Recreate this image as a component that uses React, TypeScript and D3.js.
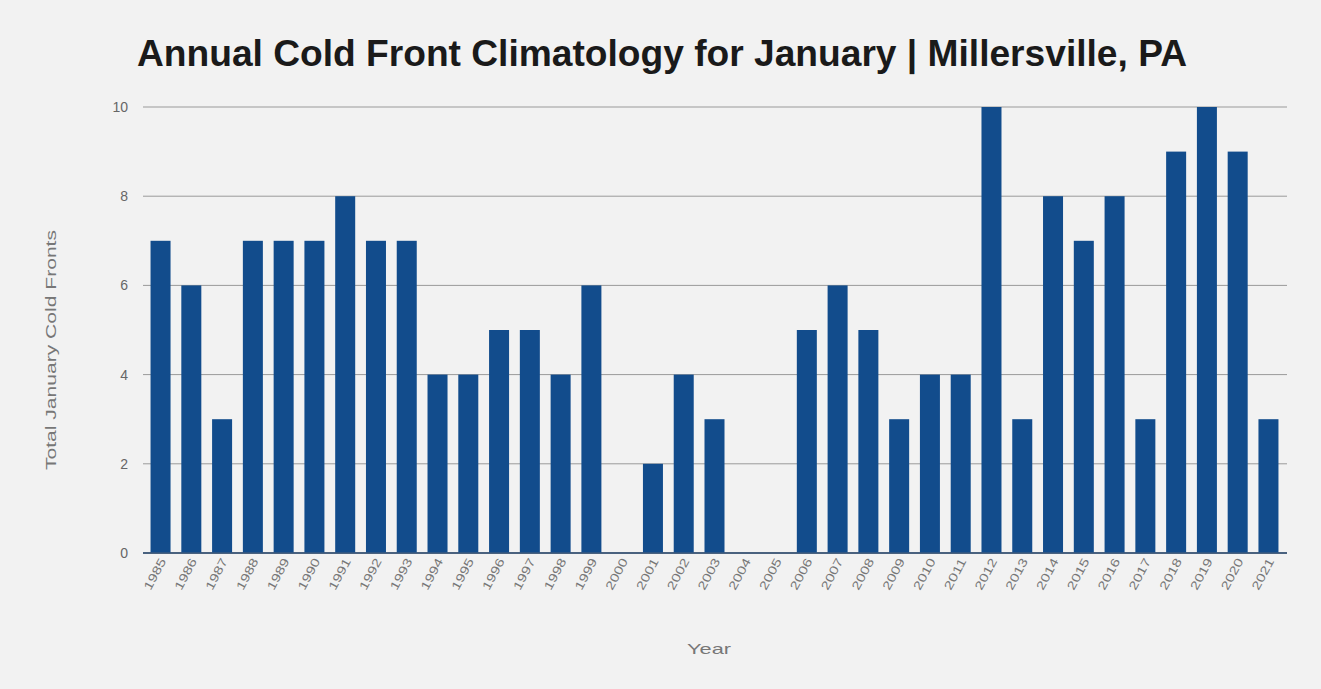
import React from "react";
import * as d3 from "d3";

const years: string[] = [
  "1985", "1986", "1987", "1988", "1989", "1990", "1991", "1992", "1993", "1994",
  "1995", "1996", "1997", "1998", "1999", "2000", "2001", "2002", "2003", "2004",
  "2005", "2006", "2007", "2008", "2009", "2010", "2011", "2012", "2013", "2014",
  "2015", "2016", "2017", "2018", "2019", "2020", "2021",
];
const coldFronts: number[] = [
  7, 6, 3, 7, 7, 7, 8, 7, 7, 4,
  4, 5, 5, 4, 6, 0, 2, 4, 3, 0,
  0, 5, 6, 5, 3, 4, 4, 10, 3, 8,
  7, 8, 3, 9, 10, 9, 3,
];
const yTicks: number[] = [0, 2, 4, 6, 8, 10];

const W = 1321;
const H = 689;
const left = 143;
const right = 1287;
const top = 107;
const bottom = 553;

export default function App() {
  const x = d3.scaleBand<string>().domain(years).range([left + 2, right - 3]).paddingInner(0.35).paddingOuter(0.18);
  const y = d3.scaleLinear().domain([0, 10]).range([bottom, top]);
  const font = "Arial, 'Liberation Sans', sans-serif";

  return (
    <svg width={W} height={H} style={{ position: "absolute", left: 0, top: 0, background: "#f2f2f2" }}>
      <rect x={0} y={0} width={W} height={H} fill="#f2f2f2" />
      <text x={137} y={66} fontFamily={font} fontWeight="bold" fontSize={36} fill="#1a1a1a"
        textLength={1050} lengthAdjust="spacingAndGlyphs">
        Annual Cold Front Climatology for January | Millersville, PA
      </text>
      {yTicks.map((t) => (
        <g key={t}>
          <line x1={left} x2={right} y1={y(t)} y2={y(t)} stroke={t === 0 ? "#555" : "#9a9a9a"} strokeWidth={t === 0 ? 1.5 : 1} />
          <text x={128} y={y(t) + 5} textAnchor="end" fontFamily={font} fontSize={14} fill="#666">{t}</text>
        </g>
      ))}
      {years.map((yr, i) => (
        <rect key={yr} x={x(yr)} y={y(coldFronts[i])} width={x.bandwidth()} height={bottom - y(coldFronts[i])} fill="#124c8c" />
      ))}
      <line x1={left} x2={right} y1={bottom} y2={bottom} stroke="#3a5a80" strokeWidth={1.5} />
      {years.map((yr) => {
        const cx = (x(yr) as number) + x.bandwidth() / 2;
        return (
          <text key={yr} transform={`translate(${cx + 6},${bottom + 8}) rotate(-62)`} textAnchor="end"
            fontFamily={font} fontSize={12} fill="#777" textLength={34} lengthAdjust="spacingAndGlyphs">
            {yr}
          </text>
        );
      })}
      <text x={709} y={654} textAnchor="middle" fontFamily={font} fontSize={15} fill="#777"
        textLength={44} lengthAdjust="spacingAndGlyphs">Year</text>
      <text transform={`translate(56,${(227 + 473) / 2}) rotate(-90)`} textAnchor="middle" fontFamily={font} fontSize={15} fill="#777"
        textLength={240} lengthAdjust="spacingAndGlyphs">
        Total January Cold Fronts
      </text>
    </svg>
  );
}
